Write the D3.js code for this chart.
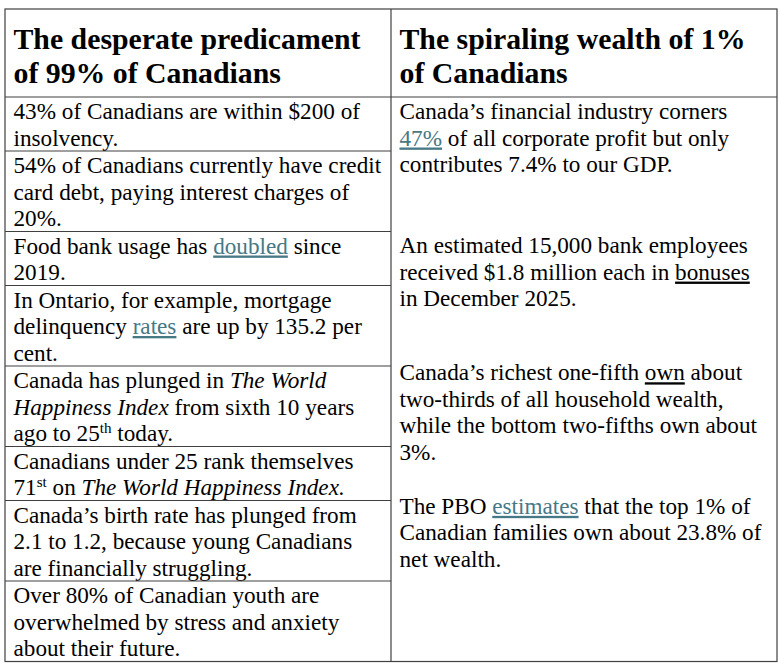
<!DOCTYPE html>
<html>
<head>
<meta charset="utf-8">
<script src="https://cdn.jsdelivr.net/npm/d3@7"></script>
<style>
  body { margin: 0; background: #fff; }
  svg { display: block; }
  text { font-family: "Liberation Serif", "Times New Roman", serif; fill: #000; }
</style>
</head>
<body>
<div id="container"></div>
<script>
/* DATA - text lines, markup: {link} _underline_ *italic* ^superscript^ */
const headers = [
  ["The desperate predicament", "of 99% of Canadians"],
  ["The spiraling wealth of 1%", "of Canadians"]
];

const predicament = [
  ["43% of Canadians are within $200 of", "insolvency."],
  ["54% of Canadians currently have credit", "card debt, paying interest charges of", "20%."],
  ["Food bank usage has {doubled} since", "2019."],
  ["In Ontario, for example, mortgage", "delinquency {rates} are up by 135.2 per", "cent."],
  ["Canada has plunged in *The World*", "*Happiness Index* from sixth 10 years", "ago to 25^th^ today."],
  ["Canadians under 25 rank themselves", "71^st^ on *The World Happiness Index.*"],
  ["Canada\u2019s birth rate has plunged from", "2.1 to 1.2, because young Canadians", "are financially struggling."],
  ["Over 80% of Canadian youth are", "overwhelmed by stress and anxiety", "about their future."]
];

const wealth = [
  ["Canada\u2019s financial industry corners", "{47%} of all corporate profit but only", "contributes 7.4% to our GDP."],
  ["An estimated 15,000 bank employees", "received $1.8 million each in _bonuses_", "in December 2025."],
  ["Canada\u2019s richest one-fifth _own_ about", "two-thirds of all household wealth,", "while the bottom two-fifths own about", "3%."],
  ["The PBO {estimates} that the top 1% of", "Canadian families own about 23.8% of", "net wealth."]
];

// blank space (in lines) before each paragraph of the right column
const wealthGaps = [0, 2.06, 1.8, 1.04];

/* LAYOUT */
const width = 780, height = 665;
const tableTop = 9, headerH = 88;
const lineH = 26.5, cellPad = 1;
const bodySize = 23.2, headSize = 29.8, headLineH = 34;
const linkColor = "#467886", borderColor = "#404040";

const svg = d3.select("#container").append("svg")
  .attr("width", width).attr("height", height);

const x = d3.scaleBand().domain([0, 1]).range([5, 777]);
const padX = 8.5;

// row tops of left column
const rowH = predicament.map(r => r.length * lineH + cellPad);
const rowTops = [tableTop + headerH].concat(Array.from(d3.cumsum(rowH), v => tableTop + headerH + v));
const tableBottom = rowTops[rowTops.length - 1];

// turn a marked-up line into runs
function parse(line) {
  return line.split(/(\{[^}]*\}|_[^_]*_|\*[^*]*\*|\^[^^]*\^)/).filter(s => s.length).map(s => {
    const c = s[0];
    if (c === "{") return { t: s.slice(1, -1), k: "link" };
    if (c === "_") return { t: s.slice(1, -1), k: "under" };
    if (c === "*") return { t: s.slice(1, -1), k: "ital" };
    if (c === "^") return { t: s.slice(1, -1), k: "sup" };
    return { t: s, k: "plain" };
  });
}

function writeLine(g, line, x0, y0, size) {
  const text = g.append("text").attr("x", x0).attr("y", y0).attr("font-size", size);
  let shift = 0;
  parse(line).forEach(r => {
    const ts = text.append("tspan").text(r.t);
    if (r.k === "link") ts.style("fill", linkColor).style("text-decoration", "underline");
    if (r.k === "under") ts.style("text-decoration", "underline");
    if (r.k === "ital") ts.attr("font-style", "italic");
    if (r.k === "sup") {
      ts.attr("font-size", size * 0.65).attr("dy", -size * 0.36);
      shift = size * 0.36;
    } else if (shift) {
      ts.attr("dy", shift);
      shift = 0;
    }
  });
  return text;
}

// headers
const head = svg.append("g");
headers.forEach((lines, i) => {
  lines.forEach((l, j) => {
    writeLine(head, l, x(i) + padX, tableTop + 40 + j * headLineH, headSize).attr("font-weight", "bold");
  });
});

// left column rows
const left = svg.append("g");
predicament.forEach((lines, i) => {
  lines.forEach((l, j) => {
    writeLine(left, l, x(0) + padX, rowTops[i] + 22 + j * lineH, bodySize);
  });
});

// right column paragraphs
const right = svg.append("g");
let lineNo = 0;
wealth.forEach((lines, i) => {
  lineNo += wealthGaps[i];
  lines.forEach(l => {
    writeLine(right, l, x(1) + padX, tableTop + headerH + 22 + lineNo * lineH, bodySize);
    lineNo += 1;
  });
});

// borders
const grid = svg.append("g").attr("stroke", borderColor).attr("stroke-width", 1.2).attr("fill", "none");
grid.append("rect").attr("x", x(0)).attr("y", tableTop)
  .attr("width", x.bandwidth() * 2).attr("height", tableBottom - tableTop);
grid.append("line").attr("x1", x(1)).attr("x2", x(1)).attr("y1", tableTop).attr("y2", tableBottom);
grid.append("line").attr("x1", x(0)).attr("x2", x(1) + x.bandwidth())
  .attr("y1", tableTop + headerH).attr("y2", tableTop + headerH);
grid.selectAll("line.row").data(rowTops.slice(1, -1)).join("line").attr("class", "row")
  .attr("x1", x(0)).attr("x2", x(1)).attr("y1", d => d).attr("y2", d => d);
</script>
</body>
</html>
